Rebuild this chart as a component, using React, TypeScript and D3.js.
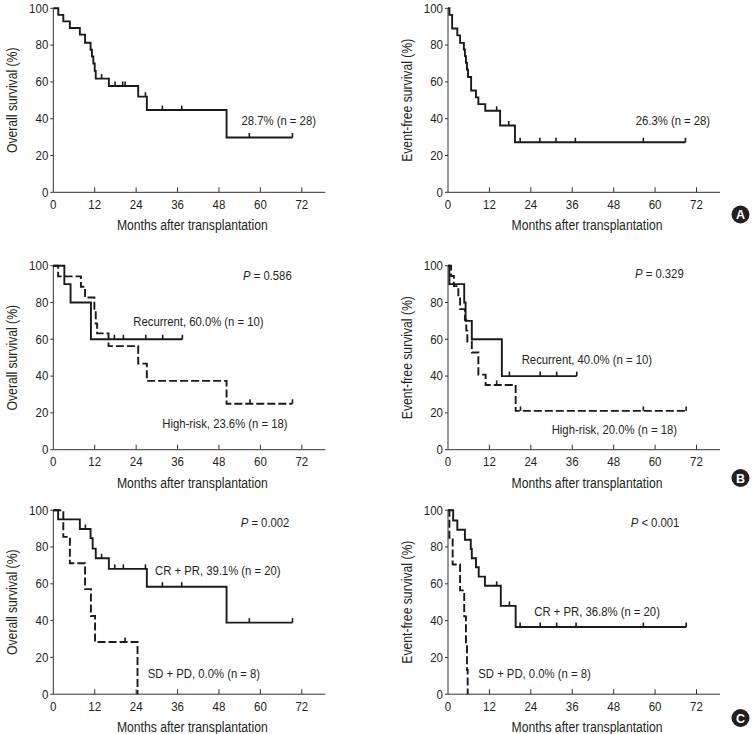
import React from 'react';
import * as d3 from 'd3';

const xTicks = [0, 12, 24, 36, 48, 60, 72];
const yTicks = [0, 20, 40, 60, 80, 100];
const xTitle = 'Months after transplantation';
const osTitle = 'Overall survival (%)';
const efsTitle = 'Event-free survival (%)';

// Panel A – overall survival (all patients)
const osAllTimes = [1.45, 2.9, 4.8, 7.7, 9.2, 10.8, 11.2, 11.6, 12.0, 12.3, 16.1, 24.6, 27.1, 50.2];
const osAllSurv = [96.4, 92.9, 89.3, 85.7, 81.3, 77.5, 73.8, 70.0, 66.0, 61.8, 57.8, 52.0, 44.7, 29.8];
const osAllCensor = [14.0, 17.9, 20.1, 20.8, 26.7, 31.6, 37.2, 56.8, 69.3];

// Panel A – event-free survival (all patients)
const efsAllTimes = [0.4, 1.2, 2.7, 3.5, 4.6, 4.9, 5.2, 5.5, 5.8, 6.7, 8.1, 8.8, 10.8, 15.1, 19.4];
const efsAllSurv = [96.4, 89.0, 85.3, 81.2, 77.6, 74.0, 70.4, 66.7, 62.7, 55.3, 51.6, 47.9, 44.3, 36.3, 27.2];
const efsAllCensor = [14.1, 17.6, 20.9, 26.6, 31.3, 36.9, 56.6, 68.8];

// Panel B – OS by disease status
const osRecTimes = [3.2, 5.0, 10.9];
const osRecSurv = [90, 80, 60];
const osRecCensor = [17.7, 20.3, 26.8, 31.7, 37.4];
const osHrTimes = [1.4, 8.0, 9.2, 11.9, 12.3, 12.7, 16.0, 24.6, 27.1, 50.2];
const osHrSurv = [94.2, 88.6, 82.7, 75.5, 68.5, 63.2, 56.3, 46.8, 37.4, 25.0];
const osHrCensor = [57.0, 69.3];

// Panel B – EFS by disease status
const efsRecTimes = [0.4, 4.7, 5.1, 6.9, 15.6];
const efsRecSurv = [90, 80, 70, 60, 40];
const efsRecCensor = [17.8, 26.7, 31.5, 37.3];
const efsHrTimes = [0.9, 1.7, 3.0, 3.5, 4.9, 5.3, 5.6, 6.9, 8.8, 10.9, 19.6];
const efsHrSurv = [94.4, 88.9, 83.3, 76.4, 70.6, 64.7, 58.8, 52.8, 40.8, 35.2, 21.1];
const efsHrCensor = [14.1, 21.0, 56.6, 69.0];

// Panel C – OS by response
const osCrTimes = [1.4, 7.7, 10.8, 11.4, 12.3, 16.1, 27.1, 50.2];
const osCrSurv = [95.0, 89.8, 84.8, 79.1, 73.9, 68.1, 58.4, 38.9];
const osCrCensor = [9.3, 14.0, 17.8, 20.3, 26.7, 31.6, 37.2, 56.8, 69.3];
const osSdTimes = [2.9, 4.8, 9.2, 10.9, 12.1, 24.4];
const osSdSurv = [85.5, 71.2, 57.1, 42.5, 28.4, 0];
const osSdCensor = [20.8];

// Panel C – EFS by response
const efsCrTimes = [1.5, 2.7, 4.9, 6.6, 6.9, 8.1, 8.9, 10.7, 15.3, 19.6];
const efsCrSurv = [94.4, 89.4, 83.9, 78.9, 73.9, 69.0, 63.9, 58.9, 48.0, 36.5];
const efsCrCensor = [14.1, 17.8, 20.9, 26.7, 31.5, 37.1, 56.6, 69.0];
const efsSdTimes = [0.4, 1.35, 3.5, 4.7, 5.2, 5.5, 5.7];
const efsSdSurv = [85.0, 70.5, 56.4, 42.3, 27.6, 13.2, 0];
const efsSdCensor: number[] = [];

type Curve = { times: number[]; surv: number[]; censor: number[]; dashed?: boolean };

const TEXT = '#231f20';
const FONT = '"Liberation Sans", Arial, sans-serif';

function CText({ x, y, size, anchor = 'start', sx = 0.87, rotate, children, weight, fill = TEXT }: any) {
  return (
    <text
      transform={`translate(${x},${y})${rotate ? ` rotate(${rotate})` : ''} scale(${sx},1)`}
      textAnchor={anchor}
      fontSize={size}
      fontFamily={FONT}
      fontWeight={weight}
      fill={fill}
    >
      {children}
    </text>
  );
}

function Panel({ left, top, yLabel, curves, notes }: { left: number; top: number; yLabel: string; curves: Curve[]; notes: any[] }) {
  const x = d3.scaleLinear().domain([0, 72]).range([left, left + 248.5]);
  const y = d3.scaleLinear().domain([0, 100]).range([top + 184, top]);
  const axisEnd = left + 272;
  const line = d3
    .line<[number, number]>()
    .x((d) => x(d[0]))
    .y((d) => y(d[1]))
    .curve(d3.curveStepAfter);
  const survAt = (c: Curve, t: number) => {
    let s = 100;
    c.times.forEach((tt, i) => {
      if (tt <= t) s = c.surv[i];
    });
    return s;
  };
  return (
    <g>
      {/* axes */}
      <line x1={left} x2={left} y1={y(100)} y2={y(0)} stroke="#333" strokeWidth={1} />
      <line x1={left} x2={axisEnd} y1={y(0)} y2={y(0)} stroke="#333" strokeWidth={1} />
      {yTicks.map((t) => (
        <g key={'y' + t}>
          <line x1={left - 3} x2={left} y1={y(t)} y2={y(t)} stroke="#333" />
          <CText x={left - 5} y={y(t) + 4.3} size={12.5} anchor="end" sx={0.92}>
            {t}
          </CText>
        </g>
      ))}
      {xTicks.map((t) => (
        <g key={'x' + t}>
          {t > 0 && <line x1={x(t)} x2={x(t)} y1={y(0)} y2={y(0) - 5} stroke="#333" />}
          <CText x={x(t)} y={y(0) + 16.5} size={12.5} anchor="middle" sx={0.92}>
            {t}
          </CText>
        </g>
      ))}
      <CText x={(left + axisEnd) / 2 + 3} y={y(0) + 38} size={14} anchor="middle">
        {xTitle}
      </CText>
      <CText x={left - 36} y={(y(0) + y(100)) / 2} size={14} anchor="middle" rotate={-90}>
        {yLabel}
      </CText>
      {curves.map((c, i) => {
        const pts: [number, number][] = [[0, 100]];
        c.times.forEach((t, j) => pts.push([t, c.surv[j]]));
        const last = c.surv[c.surv.length - 1];
        const endT = Math.max(c.times[c.times.length - 1], ...(c.censor.length ? c.censor : [0]));
        if (endT > c.times[c.times.length - 1]) pts.push([endT, last]);
        return (
          <g key={i}>
            <path
              d={line(pts) || ''}
              fill="none"
              stroke="#1a1a1a"
              strokeWidth={1.9}
              strokeDasharray={c.dashed ? '8,3' : undefined}
            />
            {c.censor.map((t, k) => (
              <line key={k} x1={x(t)} x2={x(t)} y1={y(survAt(c, t))} y2={y(survAt(c, t)) - 4.5} stroke="#1a1a1a" strokeWidth={1.6} />
            ))}
          </g>
        );
      })}
      {notes}
    </g>
  );
}

function PText({ x, y, value, cmp = '=' }: any) {
  return (
    <CText x={x} y={y} size={13}>
      <tspan fontStyle="italic">P</tspan>
      {` ${cmp} ${value}`}
    </CText>
  );
}

function Badge({ cx, cy, letter }: any) {
  return (
    <g>
      <circle cx={cx} cy={cy} r={9} fill="#231f20" />
      <text x={cx} y={cy + 4.5} textAnchor="middle" fontSize={12.5} fontWeight="bold" fontFamily={FONT} fill="#fff">
        {letter}
      </text>
    </g>
  );
}

export default function App() {
  const L = 53.3;
  const R = 448;
  const tA = 8.3;
  const tB = 265.7;
  const tC = 510.2;
  return (
    <svg width={753} height={734} style={{ position: 'absolute', left: 0, top: 0, background: '#fff' }}>
      <rect width={753} height={734} fill="#fff" />
      <Panel
        left={L}
        top={tA}
        yLabel={osTitle}
        curves={[{ times: osAllTimes, surv: osAllSurv, censor: osAllCensor }]}
        notes={[<CText key="n" x={241.5} y={124.5} size={13}>28.7% (n = 28)</CText>]}
      />
      <Panel
        left={R}
        top={tA}
        yLabel={efsTitle}
        curves={[{ times: efsAllTimes, surv: efsAllSurv, censor: efsAllCensor }]}
        notes={[<CText key="n" x={635.7} y={124.5} size={13}>26.3% (n = 28)</CText>]}
      />
      <Panel
        left={L}
        top={tB}
        yLabel={osTitle}
        curves={[
          { times: osRecTimes, surv: osRecSurv, censor: osRecCensor },
          { times: osHrTimes, surv: osHrSurv, censor: osHrCensor, dashed: true },
        ]}
        notes={[
          <PText key="p" x={243} y={280.2} value="0.586" />,
          <CText key="a" x={133.3} y={326.2} size={13}>Recurrent, 60.0% (n = 10)</CText>,
          <CText key="b" x={162.3} y={427.8} size={13}>High-risk, 23.6% (n = 18)</CText>,
        ]}
      />
      <Panel
        left={R}
        top={tB}
        yLabel={efsTitle}
        curves={[
          { times: efsRecTimes, surv: efsRecSurv, censor: efsRecCensor },
          { times: efsHrTimes, surv: efsHrSurv, censor: efsHrCensor, dashed: true },
        ]}
        notes={[
          <PText key="p" x={635} y={277.8} value="0.329" />,
          <CText key="a" x={521.7} y={363.8} size={13}>Recurrent, 40.0% (n = 10)</CText>,
          <CText key="b" x={551.7} y={433.8} size={13}>High-risk, 20.0% (n = 18)</CText>,
        ]}
      />
      <Panel
        left={L}
        top={tC}
        yLabel={osTitle}
        curves={[
          { times: osCrTimes, surv: osCrSurv, censor: osCrCensor },
          { times: osSdTimes, surv: osSdSurv, censor: osSdCensor, dashed: true },
        ]}
        notes={[
          <PText key="p" x={240.7} y={527.2} value="0.002" />,
          <CText key="a" x={155} y={575.2} size={13}>CR + PR, 39.1% (n = 20)</CText>,
          <CText key="b" x={147.7} y={677.8} size={13}>SD + PD, 0.0% (n = 8)</CText>,
        ]}
      />
      <Panel
        left={R}
        top={tC}
        yLabel={efsTitle}
        curves={[
          { times: efsCrTimes, surv: efsCrSurv, censor: efsCrCensor },
          { times: efsSdTimes, surv: efsSdSurv, censor: efsSdCensor, dashed: true },
        ]}
        notes={[
          <PText key="p" x={630.7} y={527.2} value="0.001" cmp="<" />,
          <CText key="a" x={534.3} y={616.2} size={13}>CR + PR, 36.8% (n = 20)</CText>,
          <CText key="b" x={478.3} y={677.8} size={13}>SD + PD, 0.0% (n = 8)</CText>,
        ]}
      />
      <Badge cx={740.5} cy={214.5} letter="A" />
      <Badge cx={740.5} cy={478} letter="B" />
      <Badge cx={740.5} cy={718} letter="C" />
    </svg>
  );
}
